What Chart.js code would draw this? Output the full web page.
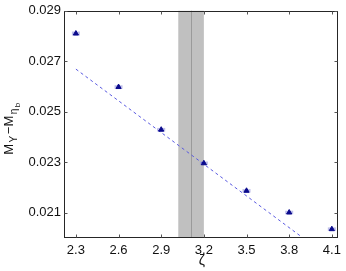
<!DOCTYPE html>
<html>
<head>
<meta charset="utf-8">
<script src="https://cdn.jsdelivr.net/npm/chart.js@4"></script>
<style>
html,body{margin:0;padding:0;background:#fff;}
#wrap{width:346px;height:271px;}
</style>
</head>
<body>
<div id="wrap"><canvas id="c" width="346" height="271"></canvas></div>
<script>
// Data
const zeta = [2.3, 2.6, 2.9, 3.2, 3.5, 3.8, 4.1];
const massDiff = [0.0281, 0.02598, 0.02429, 0.02296, 0.02187, 0.02101, 0.02035];
const massErr = [0.00006, 0.00005, 0.00005, 0.00005, 0.00005, 0.00005, 0.00005];
const fitX = [2.3, 3.898];
const fitY = [0.02669, 0.0200];
const band = [3.02, 3.20];
const bandCenter = 3.11;
const xTicks = [2.3, 2.6, 2.9, 3.2, 3.5, 3.8, 4.1];
const yTicks = [0.021, 0.023, 0.025, 0.027, 0.029];

const FONT = "'Liberation Sans', Arial, sans-serif";

const bgPlugin = {
  id: 'bg',
  beforeDatasetsDraw(chart) {
    const {ctx, chartArea: a, scales: {x, y}} = chart;
    ctx.save();
    const x0 = x.getPixelForValue(band[0]), x1 = x.getPixelForValue(band[1]);
    ctx.fillStyle = '#c0c0c0';
    ctx.fillRect(x0, a.top, x1 - x0, a.bottom - a.top);
    const xc = Math.round(x.getPixelForValue(bandCenter)) + 0.5;
    ctx.strokeStyle = '#9a9a9a';
    ctx.lineWidth = 1;
    ctx.beginPath(); ctx.moveTo(xc, a.top); ctx.lineTo(xc, a.bottom); ctx.stroke();
    zeta.forEach((z, i) => {
      const px = x.getPixelForValue(z);
      const pt = y.getPixelForValue(massDiff[i] + massErr[i]);
      const pb = y.getPixelForValue(massDiff[i] - massErr[i]);
      ctx.fillStyle = 'rgba(150,150,220,0.6)';
      ctx.fillRect(px - 4, pt - 0.5, 8, pb - pt + 1);
    });
    ctx.restore();
  },
  afterDraw(chart) {
    const {ctx, chartArea: a, scales: {x, y}} = chart;
    ctx.save();
    ctx.strokeStyle = '#262626';
    ctx.lineWidth = 1;
    const L = Math.round(a.left) + 0.5, R = Math.round(a.right) - 0.5;
    const T = Math.round(a.top) + 0.5, B = Math.round(a.bottom) - 0.5;
    ctx.strokeRect(L, T, R - L, B - T);
    ctx.strokeStyle = '#555';
    ctx.beginPath();
    xTicks.forEach(v => {
      const p = Math.round(x.getPixelForValue(v)) + 0.5;
      ctx.moveTo(p, B); ctx.lineTo(p, B - 3);
      ctx.moveTo(p, T); ctx.lineTo(p, T + 3);
    });
    yTicks.forEach(v => {
      const p = Math.round(y.getPixelForValue(v)) + 0.5;
      ctx.moveTo(L, p); ctx.lineTo(L + 3, p);
      ctx.moveTo(R, p); ctx.lineTo(R - 3, p);
    });
    ctx.stroke();
    ctx.fillStyle = '#111';
    ctx.font = '14px ' + FONT;
    ctx.textAlign = 'center';
    ctx.textBaseline = 'alphabetic';
    ctx.fillText('ζ', (a.left + a.right) / 2 + 1, 265);
    ctx.translate(13, 128);
    ctx.rotate(-Math.PI / 2);
    const segs = [
      {t: 'M', s: 13, dy: 0},
      {t: 'Υ', s: 10, dy: 4},
      {t: '−M', s: 13, dy: 0},
      {t: 'η', s: 10, dy: 4},
      {t: 'b', s: 8, dy: 7}
    ];
    ctx.textAlign = 'left';
    let total = 0;
    segs.forEach(sg => { ctx.font = sg.s + 'px ' + FONT; sg.w = ctx.measureText(sg.t).width + 1.5; total += sg.w; });
    let cx = -total / 2;
    segs.forEach(sg => { ctx.font = sg.s + 'px ' + FONT; ctx.fillText(sg.t, cx, sg.dy); cx += sg.w; });
    ctx.restore();
  }
};

new Chart(document.getElementById('c'), {
  type: 'scatter',
  data: {
    datasets: [
      {
        data: zeta.map((z, i) => ({x: z, y: massDiff[i]})),
        pointStyle: 'triangle',
        pointRadius: 3,
        backgroundColor: '#0a0a8c',
        borderColor: '#0a0a8c',
        borderWidth: 1,
        order: 1
      },
      {
        type: 'line',
        data: fitX.map((v, i) => ({x: v, y: fitY[i]})),
        borderColor: '#5a5ae0',
        borderWidth: 1,
        borderDash: [3, 3],
        pointRadius: 0,
        fill: false,
        order: 2
      }
    ]
  },
  options: {
    responsive: false,
    animation: false,
    events: [],
    layout: {padding: {top: 10, right: 6, left: 0, bottom: 0}},
    plugins: {legend: {display: false}, tooltip: {enabled: false}},
    scales: {
      x: {
        type: 'linear',
        min: 2.2163,
        max: 4.1419,
        afterBuildTicks: s => { s.ticks = xTicks.map(v => ({value: v})); },
        afterFit: s => { s.height = 33; },
        grid: {display: false, drawTicks: false},
        border: {display: false},
        ticks: {
          padding: 5,
          color: '#111',
          font: {family: FONT, size: 13},
          maxRotation: 0,
          callback: v => v.toFixed(1)
        }
      },
      y: {
        type: 'linear',
        min: 0.020,
        max: 0.029,
        afterBuildTicks: s => { s.ticks = yTicks.map(v => ({value: v})); },
        afterFit: s => { s.width = 64; },
        grid: {display: false, drawTicks: false},
        border: {display: false},
        ticks: {
          padding: 3,
          color: '#111',
          font: {family: FONT, size: 13},
          callback: v => v.toFixed(3)
        }
      }
    }
  },
  plugins: [bgPlugin]
});
</script>
</body>
</html>
